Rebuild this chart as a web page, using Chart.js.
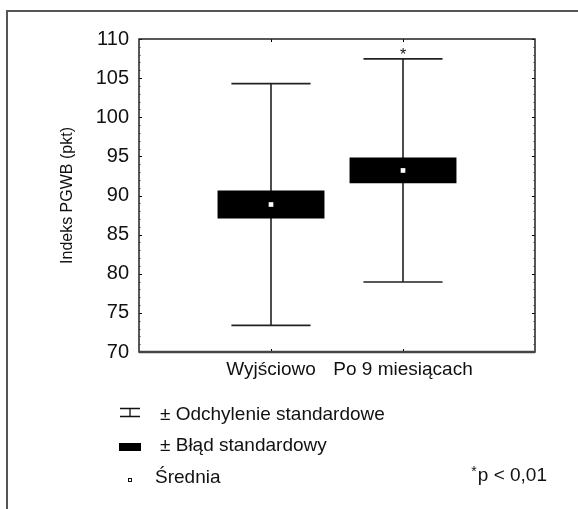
<!DOCTYPE html>
<html>
<head>
<meta charset="utf-8">
<script src="https://cdn.jsdelivr.net/npm/chart.js@4/dist/chart.umd.min.js"></script>
<style>
  html, body { margin: 0; padding: 0; background: #fff; }
  #wrap { width: 578px; height: 509px; }
</style>
</head>
<body>
<div id="wrap"><canvas id="myChart" width="578" height="509"></canvas></div>
<script>
// values
const groups = ['Wyjściowo', 'Po 9 miesiącach'];
const means = [88.85, 93.2];
const stdErrors = [1.78, 1.65];
const stdDevs = [15.45, 14.26];
const significant = [false, true];
const yMin = 70;
const yMax = 110;
const yStep = 5;
const legendLabels = ['± Odchylenie standardowe', '± Błąd standardowy', 'Średnia'];
const pNote = 'p < 0,01';
const yTitle = 'Indeks PGWB (pkt)';

const FONT = "'Liberation Sans', Arial, sans-serif";
Chart.defaults.font.family = FONT;
Chart.defaults.color = '#111';

// empty categories at both ends so the two groups sit at 1/3 and 2/3
const labels = ['', ...groups, ''];
const pad = (arr) => [null, ...arr, null];
const seBoxes = pad(means.map((m, i) => [m - stdErrors[i], m + stdErrors[i]]));
const meanPoints = pad(means);

const boxPlotDecor = {
  id: 'boxPlotDecor',
  beforeDraw(chart) {
    const { ctx, width, height } = chart;
    ctx.save();
    ctx.strokeStyle = '#555';
    ctx.lineWidth = 2;
    ctx.beginPath();
    ctx.moveTo(7, height);
    ctx.lineTo(7, 11);
    ctx.lineTo(width, 11);
    ctx.stroke();
    ctx.restore();
  },
  beforeDatasetsDraw(chart) {
    const { ctx } = chart;
    const x = chart.scales.x, y = chart.scales.y;
    const bars = chart.getDatasetMeta(1).data;
    ctx.save();
    ctx.strokeStyle = '#222';
    ctx.lineWidth = 1.6;
    groups.forEach((g, i) => {
      const px = x.getPixelForValue(i + 1);
      const hi = y.getPixelForValue(means[i] + stdDevs[i]);
      const lo = y.getPixelForValue(means[i] - stdDevs[i]);
      const half = bars[i + 1].width * 0.37;
      ctx.beginPath();
      ctx.moveTo(px, hi); ctx.lineTo(px, lo);
      ctx.moveTo(px - half, hi); ctx.lineTo(px + half, hi);
      ctx.moveTo(px - half, lo); ctx.lineTo(px + half, lo);
      ctx.stroke();
      if (significant[i]) {
        ctx.fillStyle = '#111';
        ctx.font = '16px ' + FONT;
        ctx.textAlign = 'center';
        ctx.textBaseline = 'alphabetic';
        ctx.fillText('*', px, hi + 1);
      }
    });
    ctx.restore();
  },
  afterDatasetsDraw(chart) {
    const { ctx, chartArea: a } = chart;
    const x = chart.scales.x, y = chart.scales.y;
    ctx.save();
    // inside tick marks on left and right
    for (let v = yMin; v <= yMax; v++) {
      const py = Math.round(y.getPixelForValue(v)) + 0.5;
      const major = v % yStep === 0;
      ctx.strokeStyle = major ? '#000' : '#999';
      ctx.lineWidth = 1;
      const len = major ? 3 : 2;
      ctx.beginPath();
      ctx.moveTo(a.left, py); ctx.lineTo(a.left + len, py);
      ctx.moveTo(a.right, py); ctx.lineTo(a.right - len, py);
      ctx.stroke();
    }
    groups.forEach((g, i) => {
      const px = Math.round(x.getPixelForValue(i + 1)) + 0.5;
      ctx.strokeStyle = '#000';
      ctx.beginPath();
      ctx.moveTo(px, a.top); ctx.lineTo(px, a.top + 3);
      ctx.moveTo(px, a.bottom); ctx.lineTo(px, a.bottom - 3);
      ctx.stroke();
    });
    // plot frame
    ctx.strokeStyle = '#222';
    ctx.lineWidth = 1.5;
    ctx.strokeRect(a.left, a.top, a.right - a.left, a.bottom - a.top);
    ctx.strokeStyle = '#444';
    ctx.lineWidth = 2.5;
    ctx.beginPath();
    ctx.moveTo(a.left, a.bottom); ctx.lineTo(a.right, a.bottom);
    ctx.stroke();
    ctx.restore();
  },
  afterDraw(chart) {
    const { ctx } = chart;
    ctx.save();
    ctx.fillStyle = '#111';
    ctx.strokeStyle = '#111';
    ctx.font = '19px ' + FONT;
    ctx.textBaseline = 'alphabetic';
    ctx.textAlign = 'left';
    // whisker icon
    ctx.lineWidth = 1.3;
    ctx.beginPath();
    ctx.moveTo(120, 408.5); ctx.lineTo(140, 408.5);
    ctx.moveTo(120, 416.5); ctx.lineTo(140, 416.5);
    ctx.moveTo(130, 408.5); ctx.lineTo(130, 416.5);
    ctx.stroke();
    ctx.fillText(legendLabels[0], 160, 420);
    // box icon
    ctx.fillStyle = '#000';
    ctx.fillRect(119, 443, 22, 8);
    ctx.fillStyle = '#111';
    ctx.fillText(legendLabels[1], 160, 451);
    // mean icon
    ctx.lineWidth = 1;
    ctx.strokeRect(128.5, 478.5, 3, 3);
    ctx.fillText(legendLabels[2], 155, 483);
    // p-value note
    ctx.textAlign = 'right';
    ctx.fillText(pNote, 547, 481);
    const w = ctx.measureText(pNote).width;
    ctx.font = '14px ' + FONT;
    ctx.fillText('*', 547 - w - 1, 476);
    ctx.restore();
  }
};

const ctx = document.getElementById('myChart').getContext('2d');
const chart = new Chart(ctx, {
  type: 'bar',
  data: {
    labels: labels,
    datasets: [
      {
        type: 'line',
        label: legendLabels[2],
        data: meanPoints,
        showLine: false,
        pointStyle: 'rect',
        pointRadius: 3.3,
        pointBackgroundColor: '#fff',
        pointBorderWidth: 0,
        order: 0
      },
      {
        label: legendLabels[1],
        data: seBoxes,
        backgroundColor: '#000',
        borderWidth: 0,
        barPercentage: 0.81,
        categoryPercentage: 1,
        order: 1
      }
    ]
  },
  options: {
    responsive: false,
    animation: false,
    layout: { padding: { top: 39, right: 43, left: 0, bottom: 0 } },
    plugins: {
      legend: { display: false },
      tooltip: { enabled: false }
    },
    scales: {
      x: {
        offset: false,
        grid: { display: false },
        border: { display: false },
        ticks: { font: { size: 19 }, padding: -2, maxRotation: 0, autoSkip: false },
        afterFit: (s) => { s.height = 157; }
      },
      y: {
        min: yMin,
        max: yMax,
        grid: { display: false },
        border: { display: false },
        ticks: { stepSize: yStep, font: { size: 20 }, padding: 2 },
        title: {
          display: true,
          text: yTitle,
          font: { size: 16 },
          padding: { top: 58, bottom: 0 }
        },
        afterFit: (s) => { s.width = 139; }
      }
    }
  },
  plugins: [boxPlotDecor]
});
</script>
</body>
</html>
